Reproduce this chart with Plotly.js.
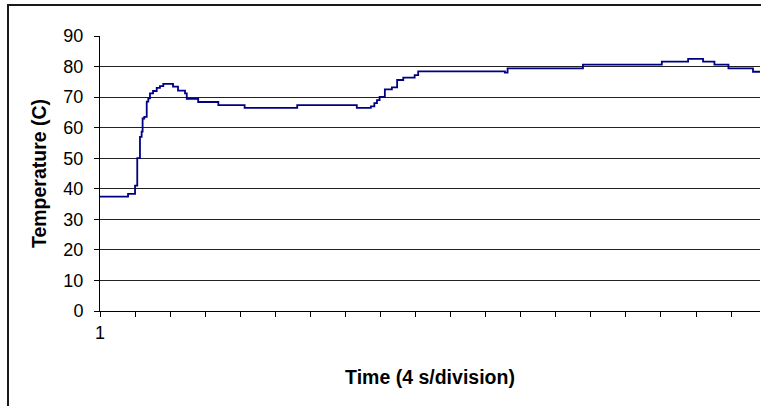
<!DOCTYPE html>
<html>
<head>
<meta charset="utf-8">
<script src="https://cdn.plot.ly/plotly-3.0.1.min.js"></script>
<style>
html, body { margin: 0; padding: 0; background: #fff; overflow: hidden; }
#wrap { position: relative; width: 761px; height: 406px; }
#chart { position: absolute; left: 0; top: 0; width: 761px; height: 406px; }
#frame { position: absolute; left: 7px; top: 4px; width: 800px; height: 450px;
  border-left: 2px solid #1a1a1a; border-top: 2px solid #1a1a1a; pointer-events: none; }
</style>
</head>
<body>
<div id="wrap">
  <div id="chart"></div>
  <div id="frame"></div>
</div>
<script>
// Time (s) at which each temperature level starts (stepped record)
const timeSec = [0, 3.2, 4.0, 4.25, 4.56, 4.75, 4.86, 5.05, 5.33, 5.51, 5.70, 6.05, 6.47, 6.84, 7.22,
  8.33, 8.90, 9.70, 9.9, 11.2, 13.5, 16.5, 22.5, 29.3, 30.9, 31.3, 31.6, 31.9, 32.5, 33.3, 33.9,
  34.6, 35.9, 36.3, 46.2, 46.5, 55.1, 64.1, 67.1, 68.8, 70.1, 71.7, 74.5, 75.3];
// Temperature (C)
const tempC = [37.4, 38.3, 41.0, 50.0, 57.0, 58.7, 63.0, 63.5, 68.5, 69.6, 71.2, 72.0, 73.0, 73.6, 74.3,
  73.4, 72.1, 71.2, 69.4, 68.4, 67.4, 66.5, 67.4, 66.5, 67.0, 68.0, 69.0, 70.1, 72.5, 73.2, 75.6,
  76.4, 77.2, 78.4, 78.0, 79.4, 80.6, 81.6, 82.5, 81.6, 80.6, 79.4, 78.3, 78.3];
// Division marks (every 4 s) and their labels
const divisionTicks = [0, 4, 8, 12, 16, 20, 24, 28, 32, 36, 40, 44, 48, 52, 56, 60, 64, 68, 72];
const divisionLabels = ["1", "", "", "", "", "", "", "", "", "", "", "", "", "", "", "", "", "", ""];
const yTicks = [0, 10, 20, 30, 40, 50, 60, 70, 80, 90];

const font = "Liberation Sans, Arial, sans-serif";

Plotly.newPlot("chart", [{
  x: timeSec,
  y: tempC,
  type: "scatter",
  mode: "lines",
  line: { color: "#000080", width: 1.8, shape: "hv" },
  hoverinfo: "skip"
}], {
  width: 761,
  height: 406,
  margin: { l: 100, r: 1, t: 36, b: 95 },
  paper_bgcolor: "#fff",
  plot_bgcolor: "#fff",
  showlegend: false,
  font: { family: font, color: "#000" },
  xaxis: {
    range: [0, 75.3],
    tickmode: "array",
    tickvals: divisionTicks,
    ticktext: divisionLabels,
    ticks: "outside",
    ticklen: 5,
    tickcolor: "#000",
    tickwidth: 1,
    showline: true,
    linecolor: "#000",
    linewidth: 1,
    showgrid: false,
    zeroline: false,
    ticklabelstandoff: 0,
    tickfont: { size: 18, family: font, color: "#000" },
    title: { text: "Time (4 s/division)", font: { size: 19.5, family: font, color: "#000", weight: "bold" }, standoff: 28 }
  },
  yaxis: {
    range: [0, 90],
    tickmode: "array",
    tickvals: yTicks,
    ticks: "outside",
    ticklen: 5,
    tickcolor: "#000",
    tickwidth: 1,
    showline: true,
    linecolor: "#000",
    linewidth: 1,
    showgrid: true,
    gridcolor: "#222",
    gridwidth: 1,
    zeroline: false,
    ticklabelstandoff: 7,
    tickfont: { size: 18, family: font, color: "#000" },
    title: { text: "Temperature (C)", font: { size: 19.5, family: font, color: "#000", weight: "bold" }, standoff: 11 }
  }
}, { staticPlot: true });
</script>
</body>
</html>
